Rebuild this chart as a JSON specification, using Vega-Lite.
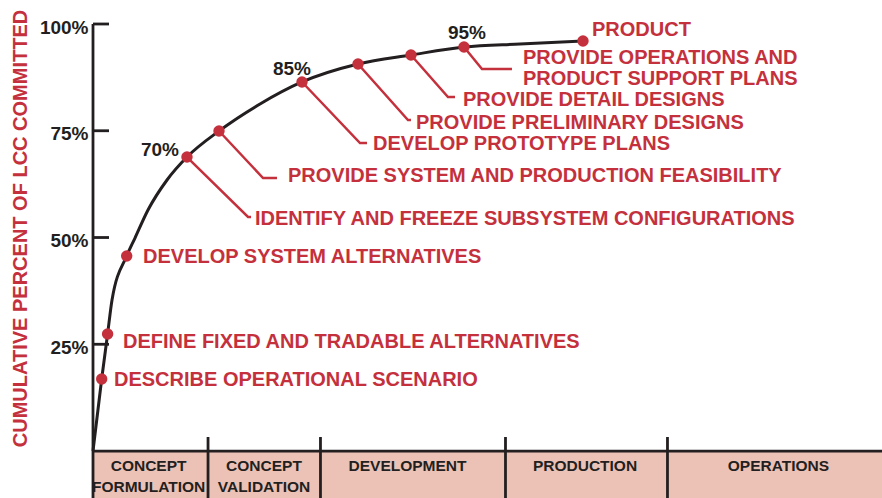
{
  "$schema": "https://vega.github.io/schema/vega-lite/v6.json",
  "width": 789,
  "height": 474,
  "autosize": {"type": "none"},
  "padding": {"left": 93, "top": 24, "right": 0, "bottom": 0},
  "background": "white",
  "config": {"view": {"stroke": null}, "font": "Liberation Sans"},
  "datasets": {
    "phases": [
      {"phase": "Concept formulation", "t": 0, "t2": 14.58, "v": -11, "v2": 0},
      {"phase": "Concept validation", "t": 14.58, "t2": 28.83, "v": -11, "v2": 0},
      {"phase": "Development", "t": 28.83, "t2": 52.28, "v": -11, "v2": 0},
      {"phase": "Production", "t": 52.28, "t2": 72.81, "v": -11, "v2": 0},
      {"phase": "Operations", "t": 72.81, "t2": 100, "v": -11, "v2": 0}
    ],
    "rules": [
      {"part": "axis", "t": 0, "t2": 0, "v": -11, "v2": 100},
      {"part": "tick", "t": 0, "t2": 2.03, "v": 25, "v2": 25},
      {"part": "tick", "t": 0, "t2": 2.03, "v": 50, "v2": 50},
      {"part": "tick", "t": 0, "t2": 2.03, "v": 75, "v2": 75},
      {"part": "tick", "t": 0, "t2": 2.03, "v": 100, "v2": 100},
      {"part": "band", "t": 0, "t2": 100, "v": 0, "v2": 0},
      {"part": "divider", "t": 14.58, "t2": 14.58, "v": 3.28, "v2": -11},
      {"part": "divider", "t": 28.83, "t2": 28.83, "v": 3.28, "v2": -11},
      {"part": "divider", "t": 52.28, "t2": 52.28, "v": 3.28, "v2": -11},
      {"part": "divider", "t": 72.81, "t2": 72.81, "v": 3.28, "v2": -11}
    ],
    "curve": [
      {"t": 0, "v": 0},
      {"t": 1.10, "v": 16.86},
      {"t": 1.85, "v": 27.40},
      {"t": 2.41, "v": 35.36},
      {"t": 4.27, "v": 45.67},
      {"t": 5.32, "v": 49.88},
      {"t": 6.97, "v": 56.44},
      {"t": 9.38, "v": 63.47},
      {"t": 11.91, "v": 68.85},
      {"t": 15.97, "v": 74.94},
      {"t": 21.17, "v": 81.26},
      {"t": 26.49, "v": 86.42},
      {"t": 33.59, "v": 90.63},
      {"t": 40.30, "v": 92.74},
      {"t": 47.02, "v": 94.61},
      {"t": 54.12, "v": 95.32},
      {"t": 62.10, "v": 96.02}
    ],
    "points": [
      {"id": "describe", "t": 1.10, "v": 16.86},
      {"id": "define", "t": 1.85, "v": 27.40},
      {"id": "develop", "t": 4.27, "v": 45.67},
      {"id": "identify", "t": 11.91, "v": 68.85},
      {"id": "feasibility", "t": 15.97, "v": 74.94},
      {"id": "prototype", "t": 26.49, "v": 86.42},
      {"id": "preliminary", "t": 33.59, "v": 90.63},
      {"id": "detail", "t": 40.30, "v": 92.74},
      {"id": "operations", "t": 47.02, "v": 94.61},
      {"id": "product", "t": 62.10, "v": 96.02}
    ],
    "leaders": [
      {"id": "identify", "ord": 1, "t": 11.91, "v": 68.85},
      {"id": "identify", "ord": 2, "t": 19.65, "v": 54.80},
      {"id": "identify", "ord": 3, "t": 20.03, "v": 54.80},
      {"id": "feasibility", "ord": 1, "t": 15.97, "v": 74.94},
      {"id": "feasibility", "ord": 2, "t": 21.55, "v": 63.93},
      {"id": "feasibility", "ord": 3, "t": 23.32, "v": 63.93},
      {"id": "prototype", "ord": 1, "t": 26.49, "v": 86.42},
      {"id": "prototype", "ord": 2, "t": 33.84, "v": 72.13},
      {"id": "prototype", "ord": 3, "t": 34.73, "v": 72.13},
      {"id": "preliminary", "ord": 1, "t": 33.59, "v": 90.63},
      {"id": "preliminary", "ord": 2, "t": 39.92, "v": 77.52},
      {"id": "preliminary", "ord": 3, "t": 40.30, "v": 77.52},
      {"id": "detail", "ord": 1, "t": 40.30, "v": 92.74},
      {"id": "detail", "ord": 2, "t": 44.99, "v": 82.90},
      {"id": "detail", "ord": 3, "t": 45.88, "v": 82.90},
      {"id": "operations", "ord": 1, "t": 47.02, "v": 94.61},
      {"id": "operations", "ord": 2, "t": 49.30, "v": 89.46},
      {"id": "operations", "ord": 3, "t": 53.10, "v": 89.46}
    ],
    "labels": [
      {"label": "DESCRIBE OPERATIONAL SCENARIO", "t": 2.66, "v": 16.63},
      {"label": "DEFINE FIXED AND TRADABLE ALTERNATIVES", "t": 3.80, "v": 25.53},
      {"label": "DEVELOP SYSTEM ALTERNATIVES", "t": 6.34, "v": 45.43},
      {"label": "IDENTIFY AND FREEZE SUBSYSTEM CONFIGURATIONS", "t": 20.53, "v": 54.33},
      {"label": "PROVIDE SYSTEM AND PRODUCTION FEASIBILITY", "t": 24.71, "v": 64.40},
      {"label": "DEVELOP PROTOTYPE PLANS", "t": 35.49, "v": 71.90},
      {"label": "PROVIDE PRELIMINARY DESIGNS", "t": 40.94, "v": 76.81},
      {"label": "PROVIDE DETAIL DESIGNS", "t": 46.89, "v": 82.20},
      {"label": "PROVIDE OPERATIONS AND", "t": 54.50, "v": 92.04},
      {"label": "PRODUCT SUPPORT PLANS", "t": 54.50, "v": 87.12},
      {"label": "PRODUCT", "t": 63.24, "v": 98.59}
    ],
    "pcts": [
      {"label": "70%", "t": 8.49, "v": 70.49},
      {"label": "85%", "t": 25.22, "v": 89.46},
      {"label": "95%", "t": 47.40, "v": 97.89}
    ],
    "phaseLabels": [
      {"label": "CONCEPT", "t": 7.05, "v": -3.51},
      {"label": "FORMULATION", "t": 7.05, "v": -8.43},
      {"label": "CONCEPT", "t": 21.67, "v": -3.51},
      {"label": "VALIDATION", "t": 21.67, "v": -8.43},
      {"label": "DEVELOPMENT", "t": 39.86, "v": -3.51},
      {"label": "PRODUCTION", "t": 62.36, "v": -3.51},
      {"label": "OPERATIONS", "t": 86.88, "v": -3.51}
    ]
  },
  "encoding": {
    "x": {"field": "t", "type": "quantitative", "scale": {"domain": [0, 100], "nice": false, "zero": false}, "axis": null},
    "y": {
      "field": "v", "type": "quantitative",
      "scale": {"domain": [-11, 100], "nice": false, "zero": false},
      "axis": {
        "values": [25, 50, 75, 100],
        "labelExpr": "datum.value + '%'",
        "ticks": false, "domain": false, "grid": false,
        "labelPadding": 5, "labelOffset": 3, "labelFont": "Liberation Sans", "labelFontWeight": "bold",
        "labelFontSize": 19, "labelColor": "#231f20", "labelBaseline": "middle",
        "labelFlush": false, "labelOverlap": false,
        "title": "CUMULATIVE PERCENT OF LCC COMMITTED",
        "titleFont": "Liberation Sans", "titleFontWeight": "bold", "titleFontSize": 20,
        "titleColor": "#c4303c", "titleAngle": -90, "titleX": -73, "titleY": 204,
        "titleAlign": "center", "titleBaseline": "middle"
      }
    }
  },
  "layer": [
    {
      "data": {"name": "phases"},
      "mark": {"type": "rect", "fill": "#ecc2b6", "stroke": null},
      "encoding": {"x2": {"field": "t2"}, "y2": {"field": "v2"}}
    },
    {
      "data": {"name": "rules"},
      "mark": {"type": "rule", "stroke": "#231f20", "strokeWidth": 2.8},
      "encoding": {"x2": {"field": "t2"}, "y2": {"field": "v2"}}
    },
    {
      "data": {"name": "curve"},
      "mark": {"type": "line", "interpolate": "monotone", "stroke": "#231f20", "strokeWidth": 3},
      "encoding": {}
    },
    {
      "data": {"name": "leaders"},
      "mark": {"type": "line", "stroke": "#c4303c", "strokeWidth": 2.5},
      "encoding": {"detail": {"field": "id"}, "order": {"field": "ord"}}
    },
    {
      "data": {"name": "points"},
      "mark": {"type": "point", "filled": true, "fill": "#c4303c", "size": 130, "opacity": 1, "strokeWidth": 0}
    },
    {
      "data": {"name": "labels"},
      "mark": {"type": "text", "align": "left", "baseline": "middle", "font": "Liberation Sans", "fontWeight": "bold", "fontSize": 20, "fill": "#c4303c"},
      "encoding": {"text": {"field": "label"}}
    },
    {
      "data": {"name": "pcts"},
      "mark": {"type": "text", "align": "center", "baseline": "middle", "font": "Liberation Sans", "fontWeight": "bold", "fontSize": 19, "fill": "#231f20"},
      "encoding": {"text": {"field": "label"}}
    },
    {
      "data": {"name": "phaseLabels"},
      "mark": {"type": "text", "align": "center", "baseline": "middle", "font": "Liberation Sans", "fontWeight": "bold", "fontSize": 15.5, "fill": "#231f20"},
      "encoding": {"text": {"field": "label"}}
    }
  ]
}
